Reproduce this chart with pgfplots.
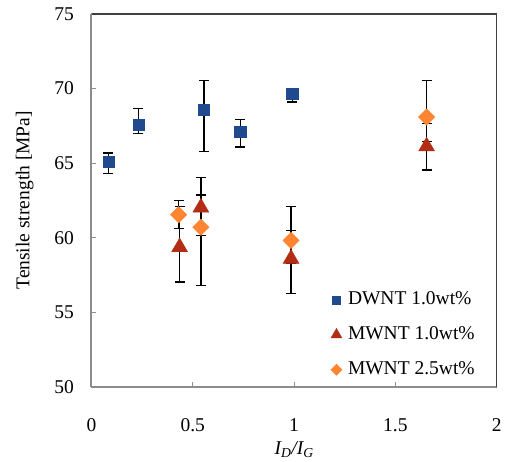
\documentclass[border=0pt]{standalone}
\usepackage{fontspec}
\setmainfont{Liberation Serif}
\usepackage{pgfplots}
\usepackage{pgfplotstable}
\pgfplotsset{compat=1.18}

\definecolor{dwnt}{HTML}{1F4A8E}
\definecolor{mwnta}{HTML}{B22D14}
\definecolor{mwntb}{HTML}{FF8533}
\definecolor{axisgray}{HTML}{8C8C8C}
\definecolor{boxgray}{HTML}{404040}

% x  y  error plus  error minus
\pgfplotstableread{
x     y     ep    em
0.083 65.09 0.58  0.78
0.231 67.60 1.07  0.62
0.555 68.56 1.96  2.78
0.734 67.09 0.82  1.02
0.991 69.68 0.30  0.58
}\dwnt

\pgfplotstableread{
x     y     ep    em
0.435 59.36 2.72  2.33
0.540 62.02 0.84  1.88
0.985 58.58 1.90  2.33
1.654 66.12 1.53  1.59
}\mwntA

\pgfplotstableread{
x     y     ep    em
0.430 61.53 0.95  0.93
0.540 60.70 3.34  3.90
0.985 59.81 2.27  1.56
1.654 68.09 2.45  1.65
}\mwntB

\begin{document}
\begin{tikzpicture}
\useasboundingbox (-91.5bp,-75.3bp) rectangle (413.5bp,386.7bp);
\begin{axis}[
    scale only axis,
    width=405.2bp, height=372.7bp,
    xmin=0, xmax=2, ymin=50, ymax=75,
    xtick={0,0.5,1,1.5,2},
    ytick={50,55,60,65,70,75},
    axis x line*=bottom, axis y line*=left,
    axis line style={-, axisgray, line width=2bp},
    tick align=inside,
    major tick length=5bp,
    tick style={axisgray, line width=1bp},
    font=\fontsize{19.5bp}{23bp}\selectfont,
    /pgf/number format/assume math mode=true,
    xticklabel style={yshift=-28bp},
    yticklabel style={xshift=-14bp},
    xlabel={\itshape I\textsubscript{D}/I\textsubscript{G}},
    ylabel={Tensile strength [MPa]},
    xlabel style={at={([yshift=-68bp]axis description cs:0.5,0)}, anchor=base},
    ylabel style={at={([xshift=-62bp]axis description cs:0,0.5)}, anchor=base, rotate=0},
    legend style={draw=none, fill=none, at={(axis cs:1.181,56.45)}, anchor=north west,
        inner sep=0bp, row sep=17bp, column sep=6bp,
        nodes={inner sep=0bp, text height=14bp, text depth=4bp},
        font=\fontsize{19.5bp}{23bp}\selectfont},
    legend cell align=left,
    legend image code/.code={\draw[#1] plot coordinates {(0bp,0bp)};},
    error bars/error bar style={black, line width=1.3bp},
    error bars/error mark options={black, line width=1.3bp, mark size=5bp, rotate=90},
]
\addplot[only marks, mark=square*, mark size=5.6bp, mark options={draw=dwnt, fill=dwnt},
    legend image post style={mark size=4bp},
    error bars/.cd, y dir=both, y explicit]
    table[x=x, y=y, y error plus=ep, y error minus=em] {\dwnt};
\addlegendentry{DWNT 1.0wt\%}
\addplot[only marks, mark=triangle*, mark size=9.2bp, mark options={draw=mwnta, fill=mwnta},
    legend image post style={mark size=6.3bp},
    error bars/.cd, y dir=both, y explicit]
    table[x=x, y=y, y error plus=ep, y error minus=em] {\mwntA};
\addlegendentry{MWNT 1.0wt\%}
\addplot[only marks, mark=square*, mark size=5.8bp, mark options={draw=mwntb, fill=mwntb, rotate=45},
    legend image post style={mark size=3.9bp},
    error bars/.cd, y dir=both, y explicit]
    table[x=x, y=y, y error plus=ep, y error minus=em] {\mwntB};
\addlegendentry{MWNT 2.5wt\%}
\end{axis}
\draw[boxgray, line width=1.3bp] (current axis.north west) -- (current axis.north east) -- (current axis.south east);
\end{tikzpicture}
\end{document}
